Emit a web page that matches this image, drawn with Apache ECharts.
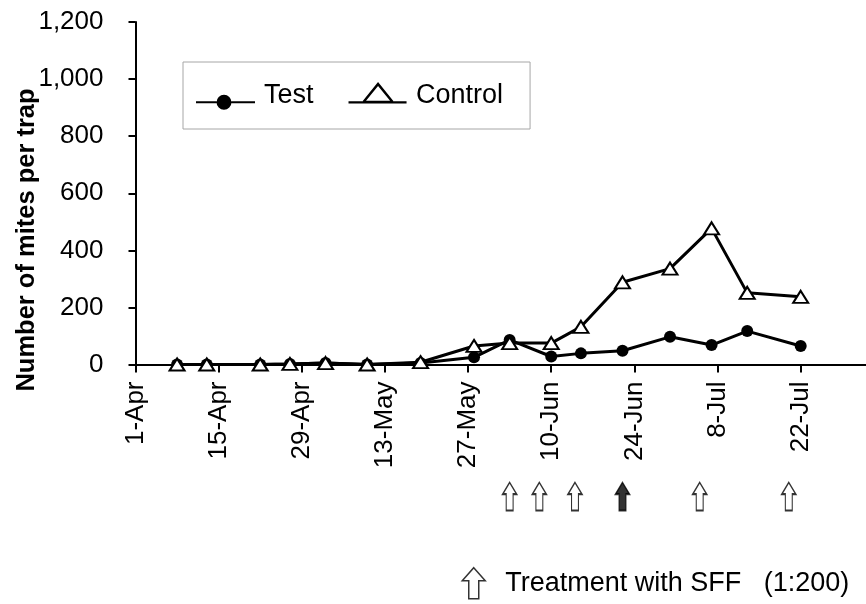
<!DOCTYPE html>
<html>
<head>
<meta charset="utf-8">
<script src="https://cdn.jsdelivr.net/npm/echarts@6/dist/echarts.min.js"></script>
<style>
  html, body { margin: 0; padding: 0; background: #fff; }
  #chart { width: 866px; height: 604px; }
</style>
</head>
<body>
<div id="chart"></div>
<script>
// Season start: the x axis counts days from 1 April
const seasonStart = '2012-04-01';
const seasonEnd = '2012-08-02';

// Trap sampling dates and counts
const sampleDates = [
  '2012-04-08', '2012-04-13', '2012-04-22', '2012-04-27', '2012-05-03', '2012-05-10',
  '2012-05-19', '2012-05-28', '2012-06-03', '2012-06-10', '2012-06-15', '2012-06-22',
  '2012-06-30', '2012-07-07', '2012-07-13', '2012-07-22'
];
const testCounts    = [0, 0, 0, 2, 5, 0, 5, 25, 86, 28, 39, 48, 97, 68, 117, 65];
const controlCounts = [0, 0, 0, 2, 5, 0, 8, 65, 75, 75, 132, 288, 336, 477, 251, 237];

// SFF treatment dates; the solid arrow marks the 22-Jun application
const treatmentDates = ['2012-06-03', '2012-06-08', '2012-06-14', '2012-06-22', '2012-07-05', '2012-07-20'];
const solidTreatment = ['2012-06-22'];

// Tick labels along the date axis (every 14 days)
const dateTicks = ['2012-04-01', '2012-04-15', '2012-04-29', '2012-05-13', '2012-05-27',
                   '2012-06-10', '2012-06-24', '2012-07-08', '2012-07-22'];
const countTicks = [0, 200, 400, 600, 800, 1000, 1200];

const MONTHS = ['Jan','Feb','Mar','Apr','May','Jun','Jul','Aug','Sep','Oct','Nov','Dec'];
const DAY_MS = 86400000;
function toDay(s) {
  const [y, m, d] = s.split('-').map(Number);
  const [y0, m0, d0] = seasonStart.split('-').map(Number);
  return Math.round((Date.UTC(y, m - 1, d) - Date.UTC(y0, m0 - 1, d0)) / DAY_MS);
}
function dayLabel(v) {
  const [y0, m0, d0] = seasonStart.split('-').map(Number);
  const dt = new Date(Date.UTC(y0, m0 - 1, d0) + v * DAY_MS);
  return dt.getUTCDate() + '-' + MONTHS[dt.getUTCMonth()];
}

const FONT = '"Liberation Sans", Arial, sans-serif';
const tickDays = dateTicks.map(toDay);
const maxDay = toDay(seasonEnd);

const testData = sampleDates.map((d, i) => [toDay(d), testCounts[i]]);
const controlData = sampleDates.map((d, i) => [toDay(d), controlCounts[i]]);
const arrowData = treatmentDates.map(d => {
  const item = { value: [toDay(d), 0.5] };
  if (solidTreatment.includes(d)) item.itemStyle = { color: '#000' };
  return item;
});

// Legend glyphs: line with a dot, line with an open triangle, hollow arrow
const testIcon = 'path://M0,0 L0.01,0 Z M0,19 L20.6,19 L20.6,21 L0,21 Z M35.4,19 L59,19 L59,21 L35.4,21 Z ' +
  'M20.5,20 A7.5,7.5 0 1 1 35.5,20 A7.5,7.5 0 1 1 20.5,20 Z';
const controlIcon = 'path://M29,0 L46,21 L12,21 Z M29,4 L17.2,18.5 L40.8,18.5 Z ' +
  'M0,19 L13.5,19 L13.5,21 L0,21 Z M44.5,19 L57,19 L57,21 L44.5,21 Z M0,27.5 L0.01,27.5 Z';
const arrowSymbol = 'path://M7.5,0 L15,12 L11.2,12 L11.2,29 L3.8,29 L3.8,12 L0,12 Z';
const arrowLegendIcon = 'path://M11.5,0 L23,13 L16.5,13 L16.5,31 L6.5,31 L6.5,13 L0,13 Z';
const treatmentName = 'Treatment with SFF   (1:200)';

const chart = echarts.init(document.getElementById('chart'), null, { renderer: 'canvas' });
chart.setOption({
  animation: false,
  backgroundColor: '#fff',
  textStyle: { fontFamily: FONT, color: '#000' },
  grid: [
    { left: 135.5, right: 0, top: 22, bottom: 239.5 },
    { left: 135.5, right: 0, top: 482, height: 29 }
  ],
  xAxis: [
    {
      type: 'value', gridIndex: 0, min: 0, max: maxDay, interval: 14,
      splitLine: { show: false },
      axisLine: { show: true, lineStyle: { color: '#000', width: 2 } },
      axisTick: { show: true, length: 8, lineStyle: { color: '#000', width: 2 }, customValues: tickDays },
      axisLabel: {
        rotate: 90, margin: 17, fontSize: 26, color: '#000', fontFamily: FONT,
        customValues: tickDays, formatter: v => dayLabel(v)
      }
    },
    { type: 'value', gridIndex: 1, min: 0, max: maxDay, show: false }
  ],
  yAxis: [
    {
      type: 'value', gridIndex: 0, min: countTicks[0], max: countTicks[countTicks.length - 1], interval: 200,
      splitLine: { show: false },
      axisLine: { show: true, lineStyle: { color: '#000', width: 2 } },
      axisTick: { show: true, length: 7, lineStyle: { color: '#000', width: 2 } },
      axisLabel: {
        margin: 32, fontSize: 26, color: '#000', fontFamily: FONT,
        formatter: v => v.toLocaleString('en-US')
      }
    },
    { type: 'value', gridIndex: 1, min: 0, max: 1, show: false }
  ],
  legend: [
    {
      selectedMode: false,
      data: [
        { name: 'Test', icon: testIcon, itemStyle: { color: '#000', borderWidth: 0 } },
        { name: 'Control', icon: controlIcon, itemStyle: { color: '#000', borderWidth: 0 } }
      ],
      left: 183, top: 62, orient: 'horizontal',
      itemWidth: 59, itemHeight: 28, itemGap: 35,
      padding: [20, 27, 19, 13],
      borderColor: '#a6a6a6', borderWidth: 1,
      textStyle: { fontSize: 27, color: '#000', fontFamily: FONT, padding: [0, 0, 0, 4] }
    },
    {
      selectedMode: false,
      data: [
        { name: treatmentName, icon: arrowLegendIcon,
          itemStyle: { color: '#fff', borderColor: '#000', borderWidth: 1.5 } }
      ],
      left: 461.5, top: 567, padding: 0,
      itemWidth: 23, itemHeight: 31,
      textStyle: { fontSize: 27, color: '#000', fontFamily: FONT, padding: [0, 0, 8, 15] }
    }
  ],
  graphic: [
    {
      type: 'text', x: 27, y: 240, rotation: Math.PI / 2,
      style: {
        text: 'Number of mites per trap', font: 'bold 25.5px ' + FONT,
        align: 'center', verticalAlign: 'middle', fill: '#000'
      }
    }
  ],
  series: [
    {
      name: 'Test', type: 'line', xAxisIndex: 0, yAxisIndex: 0,
      data: testData,
      symbol: 'circle', symbolSize: 12,
      lineStyle: { color: '#000', width: 3 },
      itemStyle: { color: '#000' },
      emphasis: { disabled: true }
    },
    {
      name: 'Control', type: 'line', xAxisIndex: 0, yAxisIndex: 0,
      data: controlData,
      symbol: 'triangle', symbolSize: [15, 12], symbolKeepAspect: false,
      lineStyle: { color: '#000', width: 3 },
      itemStyle: { color: '#fff', borderColor: '#000', borderWidth: 2 },
      emphasis: { disabled: true }
    },
    {
      name: treatmentName, type: 'scatter', xAxisIndex: 1, yAxisIndex: 1,
      data: arrowData,
      symbol: arrowSymbol, symbolSize: [14, 28], symbolKeepAspect: false,
      itemStyle: { color: '#fff', borderColor: '#000', borderWidth: 1.5 },
      emphasis: { disabled: true }
    }
  ]
});
</script>
</body>
</html>
